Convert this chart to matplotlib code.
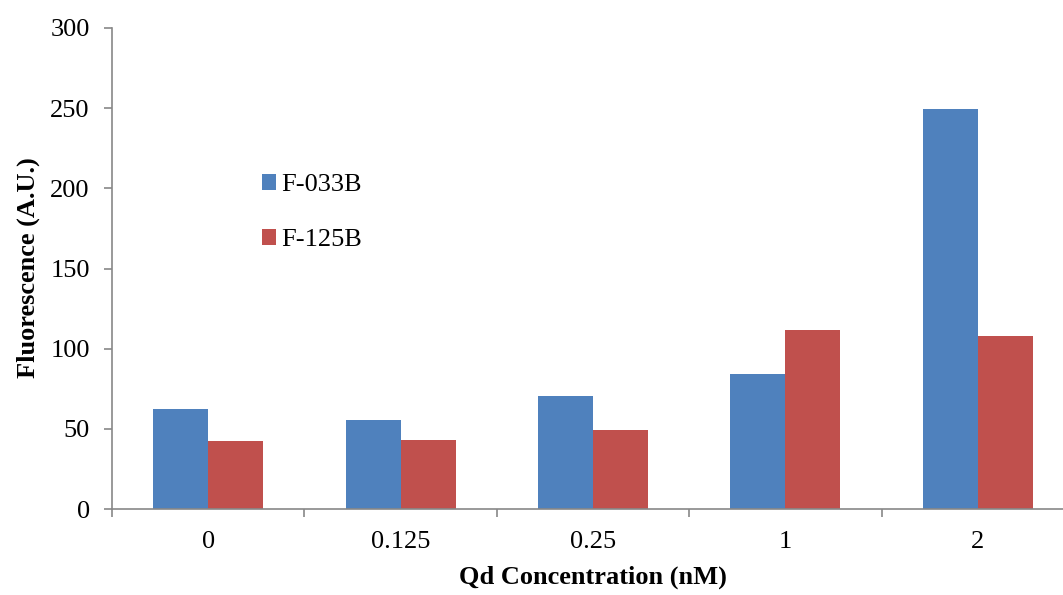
import matplotlib
matplotlib.use("Agg")
import matplotlib.pyplot as plt
import numpy as np
from matplotlib.patches import Patch

categories = ["0", "0.125", "0.25", "1", "2"]
f033b = [62.2, 55.4, 70.2, 84.3, 249.5]
f125b = [42.4, 43.3, 49.3, 111.7, 108.2]
series_names = ["F-033B", "F-125B"]
colors = ["#4F81BD", "#C0504D"]
y_ticks = [0, 50, 100, 150, 200, 250, 300]

plt.rcParams["font.family"] = ["Liberation Serif", "DejaVu Serif"]

fig = plt.figure(figsize=(10.63, 5.95), dpi=100)
ax = fig.add_axes([112 / 1063, 1 - 509 / 595, (1074 - 112) / 1063, (509 - 28) / 595])

x = np.arange(len(categories))
w = 1 / 3.5
ax.bar(x - w / 2, f033b, width=w, color=colors[0], linewidth=0)
ax.bar(x + w / 2, f125b, width=w, color=colors[1], linewidth=0)

ax.set_xlim(-0.5, len(categories) - 0.5)
ax.set_ylim(0, 300)
ax.set_yticks(y_ticks)
ax.set_xticks(x)
ax.set_xticklabels(categories)
ax.set_xticks(np.arange(len(categories) + 1) - 0.5, minor=True)
ax.tick_params(axis="x", which="major", length=0, pad=16, labelsize=19)
ax.tick_params(axis="x", which="minor", length=6, color="#888888", width=1.2, direction="out")
ax.tick_params(axis="y", length=6, color="#888888", width=1.2, direction="out", labelsize=19, pad=10)

for s in ["top", "right"]:
    ax.spines[s].set_visible(False)
for s in ["left", "bottom"]:
    ax.spines[s].set_color("#888888")
    ax.spines[s].set_linewidth(1.2)

fig.text(593 / 1063, 1 - 577 / 595, "Qd Concentration (nM)", ha="center", va="center",
         fontsize=19, fontweight="bold")
fig.text(28 / 1063, 1 - 268 / 595, "Fluorescence (A.U.)", ha="center", va="center",
         fontsize=19, fontweight="bold", rotation=90)

handles = [Patch(facecolor=c, edgecolor="none") for c in colors]
ax.legend(handles, series_names, loc="upper left", bbox_to_anchor=(262 / 1063, 1 - 174 / 595),
          bbox_transform=fig.transFigure, frameon=False, fontsize=19,
          handlelength=0.53, handleheight=0.53, handletextpad=0.2, labelspacing=1.25,
          borderpad=0, borderaxespad=0)

fig.savefig("out.png", dpi=100)
